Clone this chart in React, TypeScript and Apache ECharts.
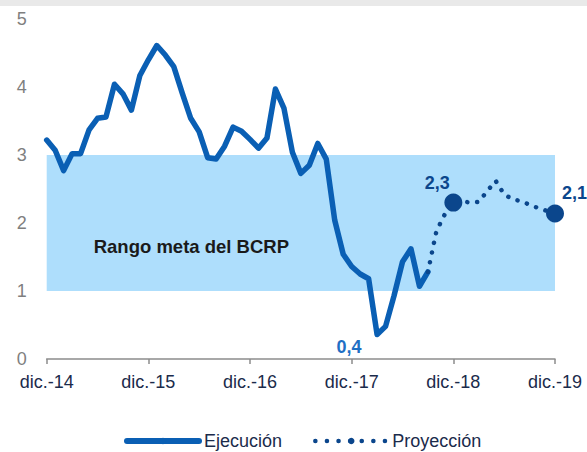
import React, { useEffect, useRef } from "react";
import * as echarts from "echarts";

const months = ["dic.", "ene.", "feb.", "mar.", "abr.", "may.", "jun.", "jul.", "ago.", "sep.", "oct.", "nov."];
const categories: string[] = [];
for (let i = 0; i <= 60; i++) {
  const yr = 14 + Math.floor((i + 11) / 12);
  categories.push(months[i % 12] + "-" + yr);
}

// Ejecución: dic.-14 .. sep.-18
const ejecucion = [
  3.22, 3.07, 2.77, 3.02, 3.02, 3.37, 3.54, 3.56, 4.04, 3.9, 3.66, 4.17, 4.4,
  4.61, 4.47, 4.3, 3.91, 3.54, 3.34, 2.96, 2.94, 3.13, 3.41, 3.35, 3.23,
  3.1, 3.25, 3.97, 3.69, 3.04, 2.73, 2.85, 3.17, 2.94, 2.04, 1.54, 1.36,
  1.25, 1.18, 0.36, 0.48, 0.93, 1.43, 1.62, 1.07, 1.28,
];
// Proyección: sep.-18 .. dic.-19
const proyeccion = [1.28, 1.88, 2.13, 2.3, 2.32, 2.3, 2.31, 2.47, 2.62, 2.42, 2.35, 2.32, 2.27, 2.22, 2.18, 2.14];
const proyStart = 45;
const yTicks = [0, 1, 2, 3, 4, 5];
const bandRange = [1, 3];
const bandLabel = "Rango meta del BCRP";
const minIndex = 39;
const markedProy = [48, 60];

const fmt = (v: number) => v.toFixed(1).replace(".", ",");
const FONT = "'Liberation Sans', Arial, sans-serif";

export default function App() {
  const ref = useRef<HTMLDivElement>(null);
  useEffect(() => {
    document.body.style.margin = "0";
    const chart = echarts.init(ref.current!, undefined, { renderer: "svg" });

    const ejData = categories.map((_, i) => {
      if (i >= ejecucion.length) return "-";
      const v = ejecucion[i];
      if (i === minIndex) {
        return {
          value: v,
          symbol: "circle",
          symbolSize: 1,
          label: {
            show: true,
            formatter: () => fmt(v),
            position: "left",
            distance: 15,
            offset: [0, 12],
            color: "#1f6fc4",
            fontWeight: "bold",
            fontSize: 18,
            fontFamily: FONT,
          },
        };
      }
      return v;
    });

    const prData = categories.map((_, i) => {
      const j = i - proyStart;
      if (j < 0 || j >= proyeccion.length) return "-";
      const v = proyeccion[j];
      if (markedProy.includes(i)) {
        const last = i === markedProy[1];
        return {
          value: v,
          symbol: "circle",
          symbolSize: 18,
          itemStyle: { color: "#0b468c" },
          label: {
            show: true,
            formatter: () => fmt(v),
            position: last ? "right" : "top",
            distance: last ? 0 : 2,
            offset: last ? [-2, -20] : [-16, 0],
            color: "#0b468c",
            fontWeight: "bold",
            fontSize: 18,
            fontFamily: FONT,
          },
        };
      }
      return v;
    });

    chart.setOption({
      animation: false,
      graphic: [
        { type: "rect", shape: { x: 0, y: 0, width: 587, height: 6 }, style: { fill: "#e9e9e9" }, silent: true },
      ],
      grid: { left: 46.7, right: 32, top: 19, bottom: 93 },
      legend: {
        left: 124,
        top: 432,
        padding: 0,
        itemWidth: 72,
        itemHeight: 8,
        itemGap: 31,
        textStyle: { fontSize: 18, color: "#1b2b4b", fontFamily: FONT },
        data: [
          { name: "Ejecución", lineStyle: { width: 6 } },
          { name: "Proyección", lineStyle: { width: 4.5, type: [0.1, 11.5] } },
        ],
      },
      xAxis: {
        type: "category",
        data: categories,
        boundaryGap: false,
        axisLine: { lineStyle: { color: "#8c8c8c", width: 1.5 } },
        axisTick: { show: true, interval: 11, length: 5, lineStyle: { color: "#8c8c8c", width: 1.5 } },
        axisLabel: {
          interval: 11,
          margin: 14,
          fontSize: 18,
          color: "#1b2b4b",
          fontFamily: FONT,
        },
        splitLine: { show: false },
      },
      yAxis: {
        type: "value",
        min: yTicks[0],
        max: yTicks[yTicks.length - 1],
        interval: 1,
        axisLine: { show: false },
        axisTick: { show: false },
        splitLine: { show: false },
        axisLabel: { margin: 20, fontSize: 18, color: "#7f7f7f", fontFamily: FONT },
      },
      series: [
        {
          name: "Ejecución",
          type: "line",
          data: ejData,
          symbol: "none",
          showAllSymbol: true,
          connectNulls: false,
          z: 3,
          lineStyle: { color: "#0a5fb4", width: 5.5, cap: "round", join: "round" },
          itemStyle: { color: "#0a5fb4" },
          markArea: {
            silent: true,
            itemStyle: { color: "#aedefc" },
            label: {
              show: true,
              position: "insideLeft",
              offset: [42, 23],
              color: "#1a1a1a",
              fontWeight: "bold",
              fontSize: 18.5,
              fontFamily: FONT,
            },
            data: [[{ yAxis: bandRange[0], name: bandLabel }, { yAxis: bandRange[1] }]],
          },
        },
        {
          name: "Proyección",
          type: "line",
          data: prData,
          symbol: "none",
          showAllSymbol: true,
          z: 4,
          lineStyle: { color: "#0b468c", width: 4.5, type: [0.1, 9.8], cap: "round" },
          itemStyle: { color: "#0b468c" },
        },
      ],
    });
    return () => chart.dispose();
  }, []);
  return <div ref={ref} style={{ width: 587, height: 452 }} />;
}
